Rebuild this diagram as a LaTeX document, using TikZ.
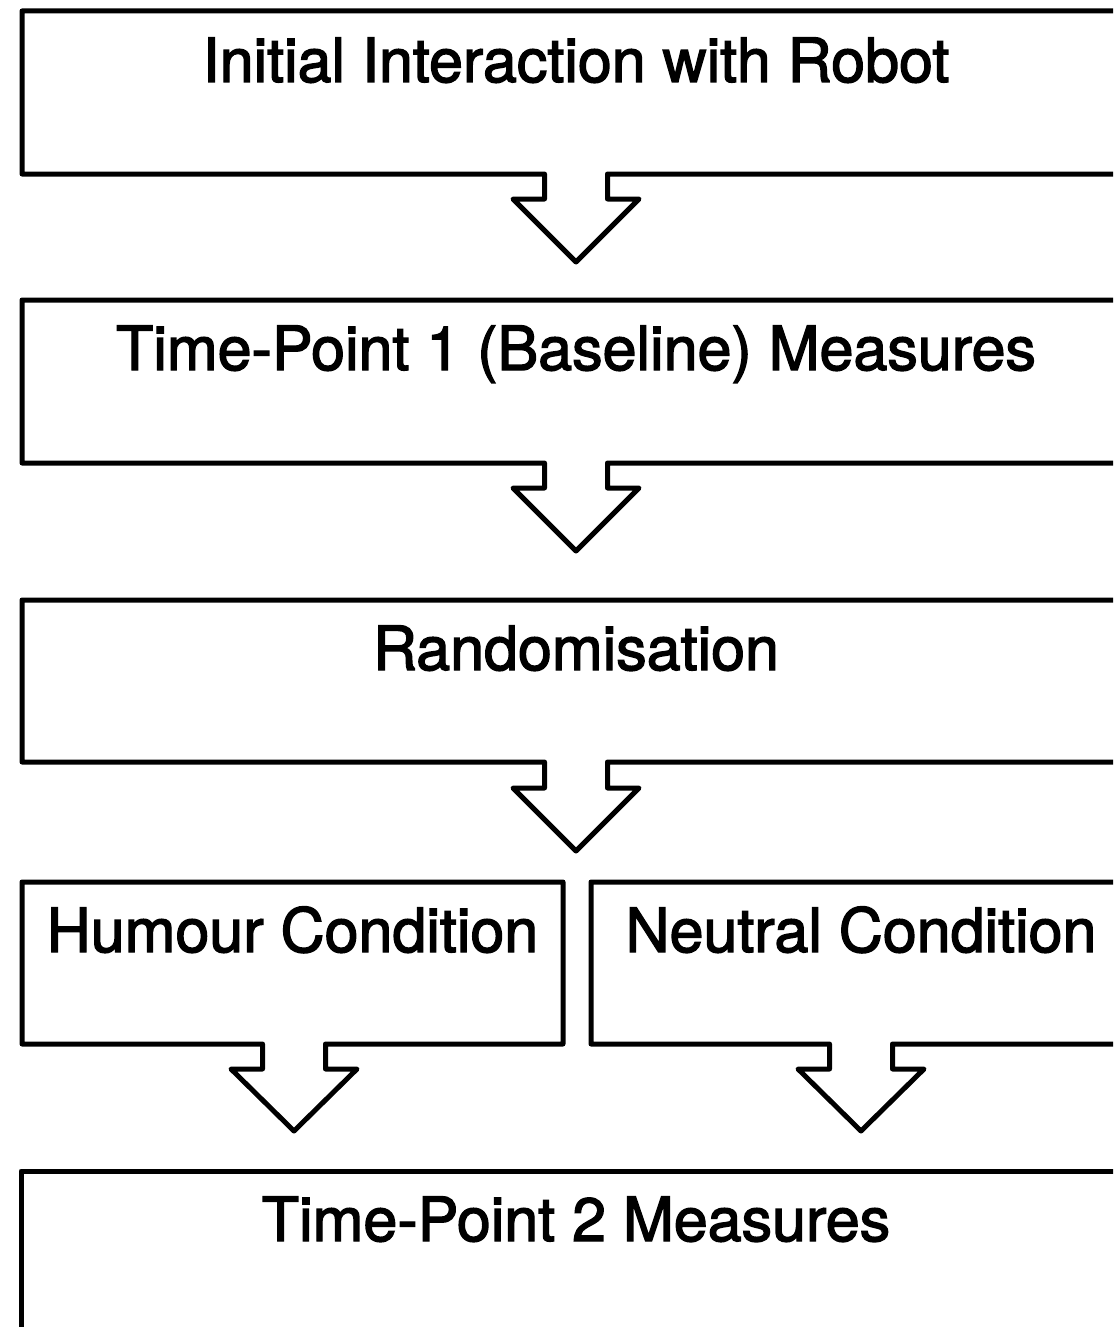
\documentclass[tikz,border=0pt]{standalone}
\usepackage{fontspec}
\setmainfont{TeX Gyre Heros}
\newfontfamily\lblfont{TeX Gyre Heros}[FakeBold=2.2]
\begin{document}
\begin{tikzpicture}[x=1pt,y=-1pt,
  outline/.style={draw=black,line width=5pt,line join=round},
  lbl/.style={anchor=base,inner sep=0pt,font=\lblfont\fontsize{61}{70}\selectfont}]
\useasboundingbox (0,0) rectangle (1113,1327);
\clip (0,0) rectangle (1113,1327);
% Box 1 with arrow
\draw[outline] (1131,174) -- (607.5,174) -- (607.5,199) -- (639,199) -- (576,262) -- (513,199) -- (544.5,199) -- (544.5,174) -- (22,174) -- (22,11) -- (1131,11) -- cycle;
\node[lbl] (b1) at (576,82) {Initial Interaction with Robot};
% Box 2 with arrow
\draw[outline] (1131,463) -- (607.5,463) -- (607.5,488) -- (639,488) -- (576,551) -- (513,488) -- (544.5,488) -- (544.5,463) -- (22,463) -- (22,300) -- (1131,300) -- cycle;
\node[lbl] (b2) at (576,370) {Time-Point 1 (Baseline) Measures};
% Box 3 with arrow
\draw[outline] (1131,762) -- (607.5,762) -- (607.5,788) -- (639,788) -- (576,851) -- (513,788) -- (544.5,788) -- (544.5,762) -- (22,762) -- (22,600) -- (1131,600) -- cycle;
\node[lbl] (b3) at (576,670) {Randomisation};
% Humour box with arrow
\draw[outline] (22,882) -- (563,882) -- (563,1044) -- (325.5,1044) -- (325.5,1069) -- (357,1069) -- (294,1131) -- (231,1069) -- (262.5,1069) -- (262.5,1044) -- (22,1044) -- cycle;
\node[lbl] (hc) at (292.5,952) {Humour Condition};
% Neutral box with arrow
\draw[outline] (591,882) -- (1131,882) -- (1131,1044) -- (892.5,1044) -- (892.5,1069) -- (924,1069) -- (861,1131) -- (798,1069) -- (829.5,1069) -- (829.5,1044) -- (591,1044) -- cycle;
\node[lbl] (nc) at (861,952) {Neutral Condition};
% Box 5
\draw[outline] (1131,1171) -- (21,1171) -- (21,1340);
\node[lbl] (b5) at (576,1241) {Time-Point 2 Measures};
\end{tikzpicture}
\end{document}
